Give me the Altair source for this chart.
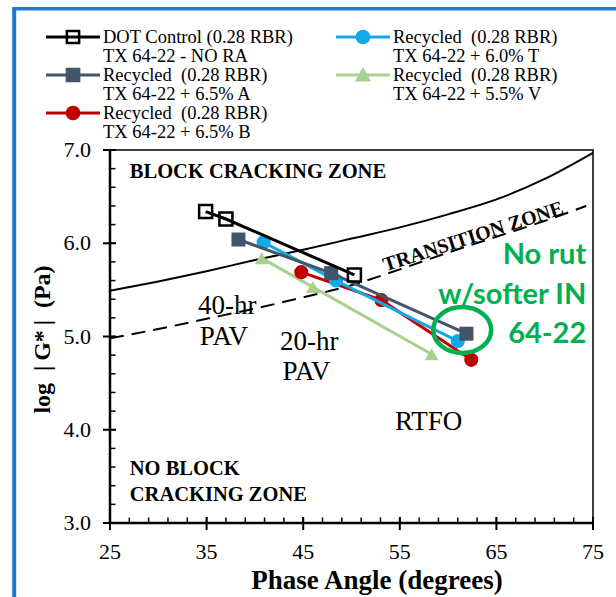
import altair as alt
import pandas as pd

# Phase angle (degrees) and log|G*| (Pa) after RTFO, 20-hr PAV and 40-hr PAV
dot_x = [34.9, 37.0, 50.3]
dot_y = [6.34, 6.26, 5.66]
t_x = [40.9, 48.4, 61.0]
t_y = [6.01, 5.60, 4.95]
a_x = [38.3, 47.9, 61.9]
a_y = [6.04, 5.68, 5.03]
v_x = [40.7, 46.0, 58.3]
v_y = [5.84, 5.53, 4.81]
b_x = [44.8, 53.1, 62.4]
b_y = [5.69, 5.39, 4.75]

legend_line1 = ["DOT Control (0.28 RBR)", "Recycled\u00a0 (0.28 RBR)", "Recycled\u00a0 (0.28 RBR)",
                "Recycled\u00a0 (0.28 RBR)", "Recycled\u00a0 (0.28 RBR)"]
legend_line2 = ["TX 64-22 - NO RA", "TX 64-22 + 6.0% T", "TX 64-22 + 6.5% A",
                "TX 64-22 + 5.5% V", "TX 64-22 + 6.5% B"]

# Zone boundaries (block cracking / transition)
upper_x = [25, 30, 35, 40, 45, 50, 55, 60, 65, 70, 75]
upper_y = [5.49, 5.59, 5.70, 5.82, 5.93, 6.05, 6.17, 6.31, 6.47, 6.69, 6.97]
lower_x = [25, 30, 35, 40, 45, 50, 55, 60, 65, 70, 74.3]
lower_y = [4.98, 5.08, 5.19, 5.30, 5.42, 5.55, 5.72, 5.90, 6.07, 6.24, 6.40]

x_ticks = [25, 35, 45, 55, 65, 75]
y_ticks = [3.0, 4.0, 5.0, 6.0, 7.0]
x_minor = list(range(25, 76, 2))
y_minor = [round(3 + 0.2 * i, 1) for i in range(21)]
x_title = "Phase Angle (degrees)"
y_title = "log\u00a0\u00a0|\u2009G*\u2009|\u00a0\u00a0(Pa)"

SERIF = "Liberation Serif"
BLACK = "#000000"
GREEN = "#00b050"
W, H = 483, 373
X0, X1, Y0, Y1 = 25, 75, 3, 7
series_style = [
    # (x, y, colour, shape, filled, size)
    (dot_x, dot_y, "#000000", "square", False, 169),
    (t_x, t_y, "#12aae6", "circle", True, 200),
    (a_x, a_y, "#44546a", "square", True, 196),
    (v_x, v_y, "#a9d18e", "triangle-up", True, 190),
    (b_x, b_y, "#c00000", "circle", True, 200),
]
draw_order = [3, 4, 1, 2, 0]

xs = alt.Scale(domain=[X0, X1], nice=False, zero=False)
ys = alt.Scale(domain=[Y0, Y1], nice=False, zero=False)


def px(field):
    return alt.X(field, scale=xs, axis=None)


def py(field):
    return alt.Y(field, scale=ys, axis=None)


def one():
    return pd.DataFrame({"k": [0]})


layers = []

# Zone boundary curves
layers.append(alt.Chart(pd.DataFrame({"x": upper_x, "y": upper_y})).mark_line(
    color=BLACK, strokeWidth=2, interpolate="monotone").encode(x=px("x:Q"), y=py("y:Q")))
layers.append(alt.Chart(pd.DataFrame({"x": lower_x, "y": lower_y})).mark_line(
    color=BLACK, strokeWidth=2, strokeDash=[14, 8], interpolate="monotone"
).encode(x=px("x:Q"), y=py("y:Q")))

# Axis lines, ticks and tick labels drawn on the shared scales
xt_major = alt.Chart(pd.DataFrame({"v": x_ticks}))
yt_major = alt.Chart(pd.DataFrame({"v": y_ticks}))
layers += [
    alt.Chart(one()).mark_rule(color=BLACK, strokeWidth=2.5).encode(
        x=alt.value(0), x2=alt.value(W), y=alt.value(H)),
    alt.Chart(one()).mark_rule(color=BLACK, strokeWidth=2.5).encode(
        x=alt.value(0), y=alt.value(0), y2=alt.value(H)),
    alt.Chart(pd.DataFrame({"v": x_minor})).mark_rule(color=BLACK, strokeWidth=1.5).encode(
        x=px("v:Q"), y=alt.value(H), y2=alt.value(H - 5.5)),
    alt.Chart(pd.DataFrame({"v": y_minor})).mark_rule(color=BLACK, strokeWidth=1.5).encode(
        y=py("v:Q"), x=alt.value(0), x2=alt.value(5.5)),
    xt_major.mark_rule(color=BLACK, strokeWidth=2).encode(
        x=px("v:Q"), y=alt.value(H - 6), y2=alt.value(H + 7)),
    yt_major.mark_rule(color=BLACK, strokeWidth=2).encode(
        y=py("v:Q"), x=alt.value(-7), x2=alt.value(6)),
    xt_major.mark_text(font=SERIF, fontSize=22, color=BLACK, baseline="alphabetic").encode(
        x=px("v:Q"), y=alt.value(H + 36), text=alt.Text("v:Q", format="d")),
    yt_major.mark_text(font=SERIF, fontSize=22, color=BLACK, align="right", baseline="middle").encode(
        y=py("v:Q"), x=alt.value(-19), text=alt.Text("v:Q", format=".1f")),
    alt.Chart(pd.DataFrame({"t": [x_title]})).mark_text(
        font=SERIF, fontSize=27, fontWeight="bold", color=BLACK, baseline="alphabetic"
    ).encode(x=alt.value(267), y=alt.value(H + 66), text="t:N"),
    alt.Chart(pd.DataFrame({"t": [y_title]})).mark_text(
        font=SERIF, fontSize=24, fontWeight="bold", color=BLACK, baseline="alphabetic", angle=270
    ).encode(x=alt.value(-60), y=alt.value(H / 2 + 3), text="t:N"),
]

for i in draw_order:
    sx, sy, col, shp, filled, size = series_style[i]
    df = pd.DataFrame({"x": sx, "y": sy})
    layers.append(alt.Chart(df).mark_line(color=col, strokeWidth=3).encode(x=px("x:Q"), y=py("y:Q")))
    layers.append(alt.Chart(df).mark_point(
        shape=shp, size=size, filled=filled, color=col, opacity=1,
        strokeWidth=2.5 if not filled else 0).encode(x=px("x:Q"), y=py("y:Q")))


def note(text, x, y, size=27, weight="normal", font=SERIF, color=BLACK, align="left",
         baseline="alphabetic", angle=0):
    return alt.Chart(pd.DataFrame({"t": [text], "x": [x], "y": [y]})).mark_text(
        font=font, fontSize=size, fontWeight=weight, color=color, align=align,
        baseline=baseline, angle=angle
    ).encode(x=px("x:Q"), y=py("y:Q"), text="t:N")


layers += [
    note("BLOCK CRACKING ZONE", 27.05, 6.70, size=20.5, weight="bold"),
    note("NO BLOCK", 27.05, 3.52, size=20.5, weight="bold"),
    note("CRACKING ZONE", 27.05, 3.24, size=20.5, weight="bold"),
    note("TRANSITION ZONE", 62.6, 6.07, size=20, weight="bold", align="center",
         baseline="middle", angle=342),
    note("40-hr", 34.1, 5.24),
    note("PAV", 34.3, 4.905),
    note("20-hr", 42.6, 4.85),
    note("PAV", 42.85, 4.53),
    note("RTFO", 54.5, 4.00),
    note("No rut", 74.3, 5.87, size=29, weight="bold", font="Lato", color=GREEN,
         align="right", baseline="middle"),
    note("w/softer IN", 74.3, 5.44, size=29, weight="bold", font="Lato", color=GREEN,
         align="right", baseline="middle"),
    note("64-22", 74.3, 5.03, size=29, weight="bold", font="Lato", color=GREEN,
         align="right", baseline="middle"),
]

# Ring around the softer-binder RTFO point
ring_path = "M-1.26,0A1.26,1,0,1,0,1.26,0A1.26,1,0,1,0,-1.26,0Z"
layers.append(alt.Chart(pd.DataFrame({"x": [61.46], "y": [5.07]})).mark_point(
    shape=ring_path, size=2116, filled=False, color=GREEN, strokeWidth=4.5, opacity=1
).encode(x=px("x:Q"), y=py("y:Q")))

# Legend above the plot, two columns; pixel offsets converted into axis units
kx = (X1 - X0) / W
ky = (Y1 - Y0) / H
leg_colors = [s[2] for s in series_style]
leg_shapes = [s[3] for s in series_style]
leg_fills = [s[2] if s[4] else "transparent" for s in series_style]
leg = alt.Chart(pd.DataFrame({
    "l1": legend_line1, "l2": legend_line2, "c": leg_colors, "s": leg_shapes, "f": leg_fills
})).transform_window(
    n="row_number()"
).transform_calculate(
    col="(datum.n - 1) % 2", row="floor((datum.n - 1) / 2)"
).transform_calculate(
    lx=f"{X0} + (datum.col * 290 - 64) * {kx}",
    lx2=f"{X0} + (datum.col * 290 - 10) * {kx}",
    mx=f"{X0} + (datum.col * 290 - 37) * {kx}",
    tx=f"{X0} + (datum.col * 290 - 7) * {kx}",
    ly=f"{Y1} + (113 - datum.row * 38) * {ky}",
    ly2=f"{Y1} + (94 - datum.row * 38) * {ky}",
)

layers += [
    leg.mark_rule(strokeWidth=3).encode(
        x=px("lx:Q"), x2="lx2:Q", y=py("ly:Q"), color=alt.Color("c:N", scale=None)),
    leg.mark_point(size=150, strokeWidth=2.5, opacity=1).encode(
        x=px("mx:Q"), y=py("ly:Q"),
        shape=alt.Shape("s:N", scale=None), fill=alt.Fill("f:N", scale=None),
        stroke=alt.Stroke("c:N", scale=None)),
    leg.mark_text(align="left", baseline="middle", font=SERIF, fontSize=18.5, color=BLACK).encode(
        x=px("tx:Q"), y=py("ly:Q"), text="l1:N"),
    leg.mark_text(align="left", baseline="middle", font=SERIF, fontSize=18.5, color=BLACK).encode(
        x=px("tx:Q"), y=py("ly2:Q"), text="l2:N"),
]

# Outer blue frame
frame_c = "#1f78d1"
layers.append(alt.Chart(one()).mark_rule(color=frame_c, strokeWidth=4).encode(
    x=alt.value(-95.8), y=alt.value(-141.5), y2=alt.value(460)))
layers.append(alt.Chart(one()).mark_rule(color=frame_c, strokeWidth=3.5).encode(
    x=alt.value(-97.8), x2=alt.value(520), y=alt.value(-141.3)))

chart = alt.layer(*layers).properties(
    width=W, height=H,
    padding={"left": 110, "top": 150, "right": 23, "bottom": 74},
    autosize=alt.AutoSizeParams(type="none"),
    background="white",
).configure_view(stroke=BLACK, strokeWidth=1.5)

chart.save("out.html", embed_options={"renderer": "svg", "actions": False})
